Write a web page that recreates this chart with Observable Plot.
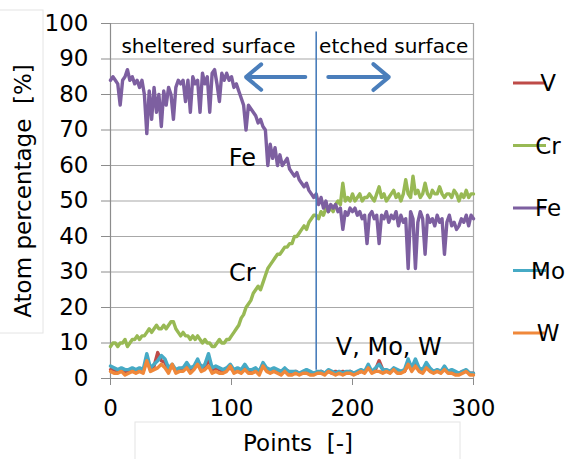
<!DOCTYPE html>
<html><head><meta charset="utf-8">
<script src="https://cdn.jsdelivr.net/npm/d3@7"></script>
<script src="https://cdn.jsdelivr.net/npm/@observablehq/plot@0.6"></script>
<style>
html,body{margin:0;padding:0;background:#fff;}
svg text{white-space:pre;}
</style></head><body><div id="chart"></div>
<script>
// ---- data ----
const seriesNames = ["V", "Cr", "Fe", "Mo", "W"];
const seriesColors = ["#be4b48", "#98b954", "#7d5fa0", "#46aac5", "#f0883a"];
const xTicks = [0, 100, 200, 300];
const yTicks = [0, 10, 20, 30, 40, 50, 60, 70, 80, 90, 100];

// major elements sampled every 2 points
const majorPoints = d3.range(0, 301, 2);
const feValues = [84,85,84,83,77,84,85,87,84,85,83,84,82,84,80,69,81,73,82,75,80,71,81,77,82,80,73,82,84,83,84,78,84,75,85,83,84,75,86,83,85,75,86,87,83,78,86,84,86,84,85,82,83,81,79,77,70,77,76,75,74,72,73,71,70,60,66,62,65,60,63,60,61,62,59,58,57,58,56,55,54,55,53,52,51,52,49,51,48,50,47,49,48,49,47,48,42,47,46,48,47,48,46,47,45,46,38,46,47,45,46,38,46,45,47,44,46,45,47,43,46,44,45,31,47,45,31,44,47,45,35,46,44,45,43,46,44,45,35,44,46,43,44,42,43,45,44,46,43,46,45];
const crValues = [9,10,10,9,10,10,11,9,10,11,11,12,11,12,12,13,14,13,14,15,14,14,15,14,15,16,16,14,13,12,13,12,12,11,12,11,12,11,10,11,10,10,9,9,10,11,10,10,11,11,12,13,14,15,17,18,20,21,22,24,25,26,25,27,29,31,32,33,34,35,35,36,37,37,38,38,40,40,41,42,43,42,44,45,46,46,45,47,46,48,47,48,47,49,50,49,55,50,51,50,52,50,51,52,50,51,51,52,51,50,52,54,51,52,50,51,52,53,51,52,50,52,56,52,51,57,52,53,51,52,55,52,51,53,52,52,54,52,51,52,52,51,53,52,50,52,51,53,51,52,52];

// minor elements sampled every 3 points
const minorPoints = d3.range(0, 301, 3);
const vValues = [2.5,2.5,2,2.5,2,2,2.5,2,2.5,2,5.5,2.5,3.5,7.3,5,4.5,2.5,3.5,2,2.5,3,4,2.5,3,4.5,3.5,3,5.5,2.5,3,2.5,2,2.5,3,2,2.5,2,3,2,2.5,2.5,2,4,2.5,2.5,2.5,2,2,2.5,2,1.5,2,1.5,1.5,2,1.5,1.5,1.5,2,1.5,2,1.5,2,1.5,2,1.5,2,1.5,1.5,2,2,3,2,2.5,5,2.5,2,2,2.5,2,2,2,4,2.5,4,2.5,2,3.5,2.5,2,2,2,3,2,2,1.5,1.5,2,2,1.5,1.5];
const moValues = [3.5,3,2.5,3,2.5,2.5,3,2.5,3,2.5,7,3,4,5,6.5,5.5,3,4,2.5,3,3,4.5,3,3.5,5.5,3,4,7,3,3.5,3,2.5,3,4,2.5,3,2.5,4,2.5,2.5,3,2,4.5,3,2.5,3,2.5,2,3,2,2,2,1.5,2,2.5,2,1.5,2,2,1.5,2.5,2,1.5,2,1.5,2,2,1.5,2,2.5,2,4,2,3,4,2.5,2.5,2,3,2.5,2,2.5,5.5,3,5.5,3,2.5,4.5,3,2,2.5,2,3.5,2,2.5,2,1.5,2,2.5,1.5,1.5];
const wValues = [2,1.5,1.5,2,1,1.5,2,1.5,2,1.5,5,2,2.5,3,4,3,1.5,4,1.5,2,2,3,1.5,2.5,4,2,2.5,3.5,1.5,2,1.5,1.5,2,3.5,1.5,2,1.5,2.5,1.5,1.5,2,1,3.5,2,1.5,2,1.5,1,2,1,1,1.5,1,1.5,1.5,1,1,1.5,1.5,1,2,1.5,1,1.5,1,1.5,1.5,1,1.5,2,1.5,3,1.5,2,2,1.5,2,1.5,2.5,1.5,1.5,2,4,2,3.5,2,1.5,3,2,1.5,2,1.5,2.5,1.5,1.5,1,1,1.5,2,1,1];

// annotations
const regionLabels = ["sheltered surface", "etched surface"];
const regionLabelX = [81, 234];
const regionLabelY = [93.6, 93.6];
const seriesLabels = ["Fe", "Cr", "V, Mo, W"];
const seriesLabelX = [109, 109, 230];
const seriesLabelY = [62, 29.7, 8.8];
const boundaryX = 170;
const boundaryY = [2.3, 97.6];
const arrowX1 = [161, 180];
const arrowX2 = [112, 230];
const arrowY = [84.9, 84.9];

const yTitle = "Atom percentage  [%]";
const xTitle = "Points  [-]";

// ---- tidy table ----
const valuesBySeries = {V: vValues, Cr: crValues, Fe: feValues, Mo: moValues, W: wValues};
const pointsBySeries = {V: minorPoints, Cr: majorPoints, Fe: majorPoints, Mo: minorPoints, W: minorPoints};
const rows = seriesNames.flatMap(s => valuesBySeries[s].map((v, i) => ({series: s, x: pointsBySeries[s][i], y: v})));

const W = 584, H = 459;
const mL = 110, mR = 111, mT = 23, mB = 81;

const chart = Plot.plot({
  width: W, height: H,
  marginLeft: mL, marginRight: mR, marginTop: mT, marginBottom: mB,
  style: {fontFamily: "DejaVu Sans", fontSize: "23px", background: "white", color: "black", overflow: "visible"},
  x: {domain: [0, 300]},
  y: {domain: [0, 100]},
  color: {domain: seriesNames, range: seriesColors},
  marks: [
    Plot.gridY(yTicks, {stroke: "#a8a8a8", strokeOpacity: 1, strokeWidth: 1.2}),
    Plot.ruleX([300], {stroke: "#a8a8a8", strokeWidth: 1.2}),
    Plot.ruleX([0], {stroke: "#8c8c8c", strokeWidth: 1.2}),
    Plot.axisY({ticks: yTicks, tickSize: 9, tickPadding: 13, fontSize: 23, label: null, stroke: "#8c8c8c"}),
    Plot.axisX({ticks: xTicks, tickSize: 7, tickPadding: 14, fontSize: 23, label: null, stroke: "#8c8c8c"}),
    Plot.line(rows, {x: "x", y: "y", z: "series", stroke: "series", strokeWidth: 3.4, strokeLinejoin: "round"}),
    Plot.ruleY([0], {stroke: "#8c8c8c", strokeWidth: 1.2}),
    Plot.ruleX([boundaryX], {y1: boundaryY[0], y2: boundaryY[1], stroke: "#4a7ebb", strokeWidth: 1.6}),
    Plot.arrow(arrowX1.map((d, i) => i), {x1: i => arrowX1[i], x2: i => arrowX2[i], y1: i => arrowY[i], y2: i => arrowY[i], stroke: "#4a7ebb", strokeWidth: 4, headLength: 15, headAngle: 80}),
    Plot.text(regionLabels, {x: (d, i) => regionLabelX[i], y: (d, i) => regionLabelY[i], text: d => d, fontSize: 20, fill: "black"}),
    Plot.text(seriesLabels, {x: (d, i) => seriesLabelX[i], y: (d, i) => seriesLabelY[i], text: d => d, fontSize: 24, fill: "black"}),
    Plot.text([yTitle], {frameAnchor: "left", textAnchor: "middle", lineAnchor: "middle", dx: -87, dy: -10, rotate: -90, fontSize: 23, fill: "black"}),
    Plot.text([xTitle], {frameAnchor: "bottom", textAnchor: "middle", lineAnchor: "middle", dy: 65, dx: 6, fontSize: 23, fill: "black"})
  ]
});

// legend (layout, drawn with d3 onto the same svg)
const svg = d3.select(chart);
const lg = svg.append("g");
seriesNames.forEach((s, i) => {
  const yy = 83 + i * 62.5;
  lg.append("line").attr("x1", 513).attr("x2", 546).attr("y1", yy).attr("y2", yy)
    .attr("stroke", seriesColors[i]).attr("stroke-width", 3);
  lg.append("text").attr("x", 548).attr("y", yy).attr("dy", "0.36em")
    .attr("font-size", 23).attr("fill", "black").text(s);
});
// faint title boxes
svg.insert("rect", ":first-child").attr("x", -5).attr("y", 10).attr("width", 48).attr("height", 323)
  .attr("fill", "none").attr("stroke", "#e4e4e4");
svg.insert("rect", ":first-child").attr("x", 135).attr("y", 422).attr("width", 325).attr("height", 50)
  .attr("fill", "none").attr("stroke", "#e4e4e4");

document.getElementById("chart").appendChild(chart);
</script>
</body></html>
